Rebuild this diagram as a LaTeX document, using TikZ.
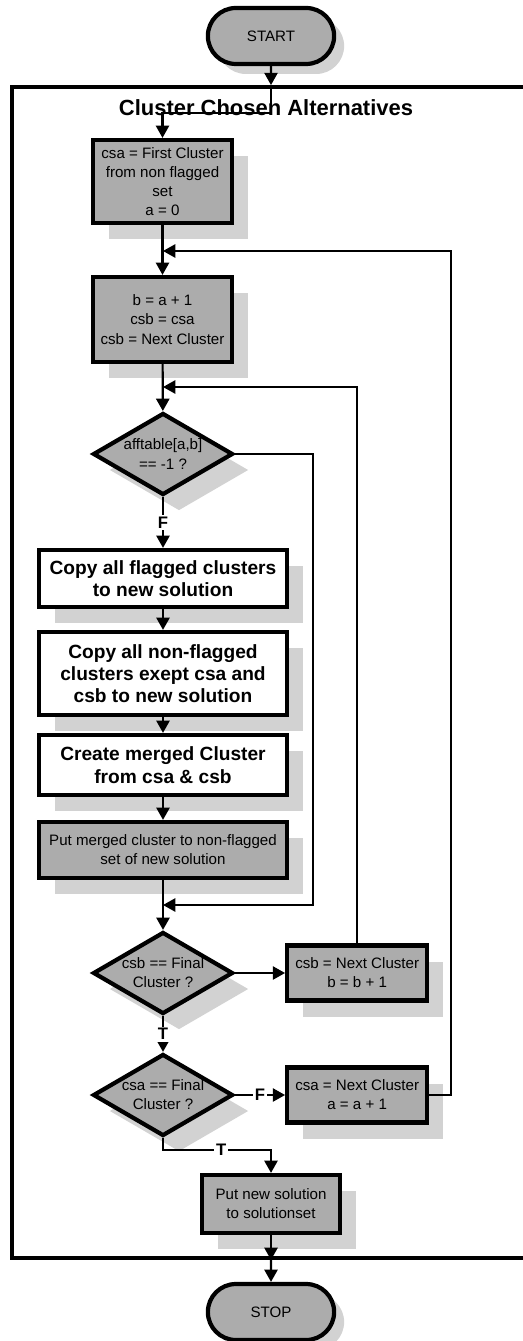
\documentclass[tikz,border=0pt]{standalone}
\usepackage{fontspec}
\setmainfont{Liberation Sans}
\definecolor{boxgray}{RGB}{172,172,172}
\definecolor{shadowgray}{RGB}{210,210,210}
\usetikzlibrary{arrows.meta, positioning, shapes.geometric, shapes.misc, shadows}

\begin{document}
\begin{tikzpicture}[x=0.02cm, y=-0.02cm,
      every node/.style={font=\fontsize{8.6}{10.9}\selectfont},
      shadowed/.style={drop shadow={shadow xshift=0.32cm, shadow yshift=-0.32cm,
                       fill=shadowgray, opacity=1}},
      graybox/.style={rectangle, draw, line width=2.4pt, fill=boxgray, align=center,
                      inner sep=0pt, shadowed},
      boldbox/.style={graybox, fill=white, minimum width=4.96cm,
                      font=\fontsize{10.9}{12.7}\selectfont\bfseries},
      decision/.style={diamond, draw, line width=2.4pt, fill=boxgray, align=center,
                       inner sep=0pt, aspect=1.7, minimum width=2.8cm,
                       minimum height=1.64cm, shadowed},
      terminal/.style={rounded rectangle, draw, line width=2.4pt, fill=boxgray,
                       minimum width=2.76cm, minimum height=1.12cm,
                       drop shadow={shadow xshift=0.2cm, shadow yshift=-0.2cm,
                       fill=shadowgray, opacity=1}},
      groupbox/.style={rectangle, draw, line width=2.3pt, inner sep=0pt,
                       minimum width=10.36cm, minimum height=23.42cm},
      arrow/.style={-{Triangle[length=7pt, width=7.5pt]}, line width=1.2pt},
      flag/.style={fill=white, inner sep=1pt, font=\fontsize{9.5}{10}\selectfont\bfseries}
    ]
    \useasboundingbox (0,0) rectangle (523,1341);

    % group frame and title
    \node[groupbox] (grp) at (271,672.5) {};
    \node[font=\fontsize{12.5}{14}\selectfont\bfseries] (ttl) at (266,108) {Cluster Chosen Alternatives};

    % main column
    \node[terminal] (start) at (271,36) {START};
    \node[graybox, minimum width=2.78cm, minimum height=1.66cm] (init) at (162.5,181.5)
      {csa = First Cluster\\from non flagged\\set\\a = 0};
    \node[graybox, minimum width=2.78cm, minimum height=1.7cm] (incb) at (162.5,319.5)
      {b = a + 1\\csb = csa\\csb = Next Cluster};
    \node[decision] (test) at (163,454) {afftable[a,b]\\== -1 ?};
    \node[boldbox, minimum height=1.14cm] (copyf) at (163,578.5)
      {Copy all flagged clusters\\to new solution};
    \node[boldbox, minimum height=1.66cm] (copyn) at (163,673.5)
      {Copy all non-flagged\\clusters exept csa and\\csb to new solution};
    \node[boldbox, minimum height=1.2cm] (merge) at (163,765)
      {Create merged Cluster\\from csa \& csb};
    \node[graybox, minimum width=4.96cm, minimum height=1.12cm] (putm) at (163,850)
      {Put merged cluster to non-flagged\\set of new solution};
    \node[decision] (lastb) at (163,973) {csb == Final\\Cluster ?};
    \node[decision] (lasta) at (163,1095) {csa == Final\\Cluster ?};
    \node[graybox, minimum width=2.76cm, minimum height=1.16cm] (save) at (271,1204)
      {Put new solution\\to solutionset};
    \node[terminal] (stop) at (271,1312) {STOP};

    % side boxes
    \node[graybox, minimum width=2.8cm, minimum height=1.1cm, right=1cm of lastb] (nextb)
      {csb = Next Cluster\\b = b + 1};
    \node[graybox, minimum width=2.8cm, minimum height=1.1cm, right=1cm of lasta] (nexta)
      {csa = Next Cluster\\a = a + 1};

    % loop joins
    \coordinate (j1) at (163,251);
    \coordinate (j2) at (163,387);
    \coordinate (j3) at (163,905);

    \draw[arrow] (start) -- (grp.north);
    \draw[arrow] (grp.north) -- ++(0,28) -| (init);
    \draw[arrow] (init) -- (incb);
    \draw[arrow] (incb) -- (test);
    \draw[arrow] (test) -- node[flag] {F} (copyf);
    \draw[arrow] (copyf) -- (copyn);
    \draw[arrow] (copyn) -- (merge);
    \draw[arrow] (merge) -- (putm);
    \draw[arrow] (putm) -- (lastb);
    \draw[arrow] (test) -- ++(150,0) |- (j3);
    \draw[arrow] (lastb) -- (nextb);
    \draw[arrow] (nextb) |- (j2);
    \draw[arrow] (lastb) -- node[flag] {T} (lasta);
    \draw[arrow] (lasta) -- node[flag] {F} (nexta);
    \draw[arrow] (nexta) -- ++(94,0) |- (j1);
    \draw[arrow] (lasta) -- ++(0,55) -| node[flag, pos=0.27] {T} (save);
    \draw[arrow] (save) -- (grp.south);
    \draw[arrow] (grp.south) -- (stop);

  \end{tikzpicture}
\end{document}
